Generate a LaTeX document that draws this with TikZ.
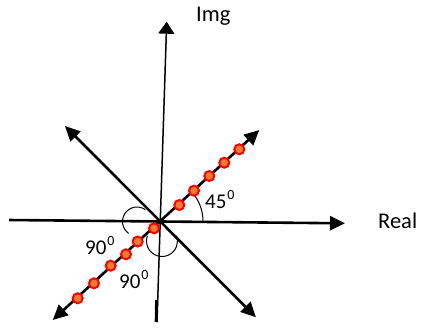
\documentclass[tikz,border=0pt]{standalone}
\usepackage{fontspec}
\setmainfont{Carlito}
\usetikzlibrary{arrows.meta}
\definecolor{dotfill}{RGB}{237,125,49}
\definecolor{dotedge}{RGB}{255,0,0}
\newcommand{\supz}{\hspace{1pt}\raisebox{8.5pt}{\fontsize{14}{14}\selectfont 0}}
\begin{document}
\begin{tikzpicture}[x=1pt,y=1pt,
  axis/.style={line width=2.6pt, -{Triangle[length=15pt,width=14pt]}},
  both/.style={line width=2.6pt, {Triangle[length=15pt,width=14pt]}-{Triangle[length=15pt,width=14pt]}},
  thinarc/.style={line width=1pt},
  dot/.style={circle, draw=dotedge, fill=dotfill, line width=2pt, minimum size=10pt, inner sep=0pt},
  lbl/.style={anchor=base west, inner sep=0pt, font=\fontsize{21}{25}\selectfont},
  axlbl/.style={anchor=base west, inner sep=0pt, font=\fontsize{22.5}{26}\selectfont}]
\useasboundingbox (0,0) rectangle (422,-327);
\coordinate (O) at (160,-221);
\coordinate (hl) at (9,-220);
\coordinate (hr) at (345,-223.3);
\coordinate (vb) at (157,-322);
\coordinate (vt) at (166.7,-21.7);
\coordinate (vb1) at (156.6,-300);
\coordinate (vb2) at (156.2,-322);
\coordinate (nw) at (65,-126);
\coordinate (se) at (256,-317.3);
\coordinate (sw) at (52.7,-320);
\coordinate (ne) at (259.3,-130);
\coordinate (cl) at (137,-221.5);
\coordinate (cb) at (162,-241);
% axes
\draw[axis] (hl) -- (hr);
\draw[line width=1.5pt, -{Triangle[length=12pt,width=16pt]}] (vb) -- (vt);
\draw[line width=3pt] (vb1) -- (vb2);
\draw[both] (nw) -- (se);
\draw[both] (sw) -- (ne);
% arcs
\draw[thinarc] (O) ++(-1:43) arc[start angle=-1,end angle=43,radius=43];
\draw[thinarc] (cl) ++(55:14.5) arc[start angle=55,end angle=235,radius=14.5];
\draw[thinarc] (cb) ++(160:15.5) arc[start angle=160,end angle=380,radius=15.5];
% dots
\node[dot] (d1) at (179.3,-205) {};
\node[dot] (d2) at (194,-190.7) {};
\node[dot] (d3) at (209.3,-176) {};
\node[dot] (d4) at (224.3,-162.7) {};
\node[dot] (d5) at (239.3,-149.3) {};
\node[dot] (e1) at (154,-228.3) {};
\node[dot] (e2) at (137.7,-241.5) {};
\node[dot] (e3) at (126,-254.3) {};
\node[dot] (e4) at (110.7,-265.7) {};
\node[dot] (e5) at (94,-283.3) {};
\node[dot] (e6) at (77.7,-298.3) {};
% labels
\node[axlbl] (img) at (196,-21.7) {Img};
\node[axlbl] (real) at (378,-228) {Real};
\node[lbl] (a45) at (205,-208.3) {45\supz};
\node[lbl] (a90a) at (85,-254) {90\supz};
\node[lbl] (a90b) at (119,-288) {90\supz};
\end{tikzpicture}
\end{document}
